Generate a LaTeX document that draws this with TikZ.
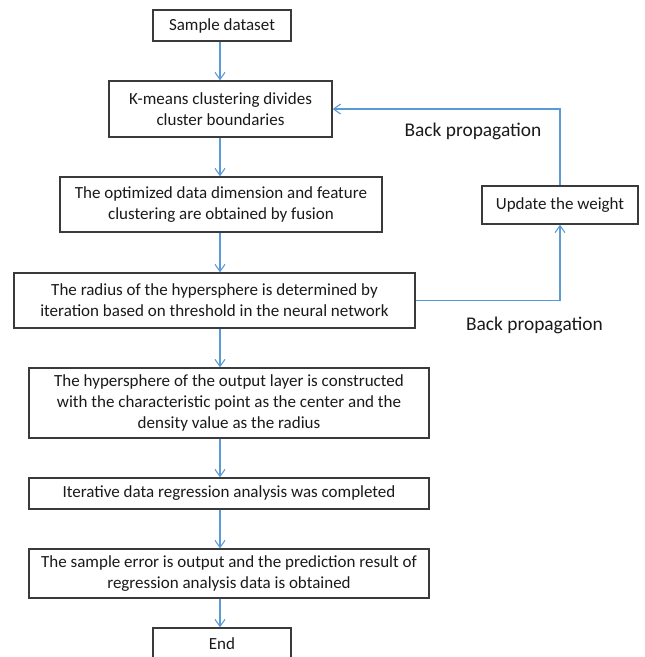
\documentclass[tikz,border=0pt]{standalone}
\usepackage{fontspec}
\setmainfont{Carlito}
\usetikzlibrary{arrows.meta}
\definecolor{boxline}{HTML}{3A3A3A}
\definecolor{arrowblue}{HTML}{5B9BD5}
\definecolor{txt}{HTML}{1A1A1A}
\begin{document}
\begin{tikzpicture}[x=1pt,y=-1pt,
  stepbox/.style={draw=boxline, line width=1.4pt, fill=white, text=txt,
    align=center, inner sep=0pt, font=\fontsize{17}{20.7}\selectfont},
  flow/.style={draw=arrowblue, line width=1.1pt,
    -{Straight Barb[length=7pt,width=10pt,line width=1.1pt]}},
  lbl/.style={text=txt, inner sep=0pt, font=\fontsize{19.4}{23}\selectfont}]
\useasboundingbox (0,0) rectangle (645,657);
\node[stepbox, minimum width=138pt, minimum height=31pt] (s1) at (222,25.5) {Sample dataset};
\node[stepbox, minimum width=223pt, minimum height=56pt] (s2) at (220.5,109) {K-means clustering divides\\cluster boundaries};
\node[stepbox, minimum width=322pt, minimum height=55pt] (s3) at (221,204.5) {The optimized data dimension and feature\\clustering are obtained by fusion};
\node[stepbox, minimum width=401pt, minimum height=55pt] (s4) at (214.5,300.5) {The radius of the hypersphere is determined by\\iteration based on threshold in the neural network};
\node[stepbox, minimum width=400pt, minimum height=70pt] (s5) at (229,403) {The hypersphere of the output layer is constructed\\with the characteristic point as the center and the\\density value as the radius};
\node[stepbox, minimum width=400pt, minimum height=31pt] (s6) at (229,493.5) {Iterative data regression analysis was completed};
\node[stepbox, minimum width=400pt, minimum height=49pt] (s7) at (229,573.5) {The sample error is output and the prediction result of\\regression analysis data is obtained};
\node[stepbox, minimum width=138pt, minimum height=32pt] (s8) at (222,644) {End};
\node[stepbox, minimum width=156pt, minimum height=38pt] (uw) at (560,205) {Update the weight};
\node[lbl] (bp1) at (473,131) {Back propagation};
\node[lbl] (bp2) at (534.5,325) {Back propagation};
\coordinate (ax) at (220,0);
\coordinate (topr) at (560,109);
\coordinate (botr) at (560,300.5);
\draw[flow] (s1.south -| ax) -- (s2.north -| ax);
\draw[flow] (s2.south -| ax) -- (s3.north -| ax);
\draw[flow] (s3.south -| ax) -- (s4.north -| ax);
\draw[flow] (s4.south -| ax) -- (s5.north -| ax);
\draw[flow] (s5.south -| ax) -- (s6.north -| ax);
\draw[flow] (s6.south -| ax) -- (s7.north -| ax);
\draw[flow] (s7.south -| ax) -- (s8.north -| ax);
\draw[flow] (s4.east) -- (botr) -- (uw.south);
\draw[flow] (uw.north) -- (topr) -- (s2.east);
\end{tikzpicture}
\end{document}
